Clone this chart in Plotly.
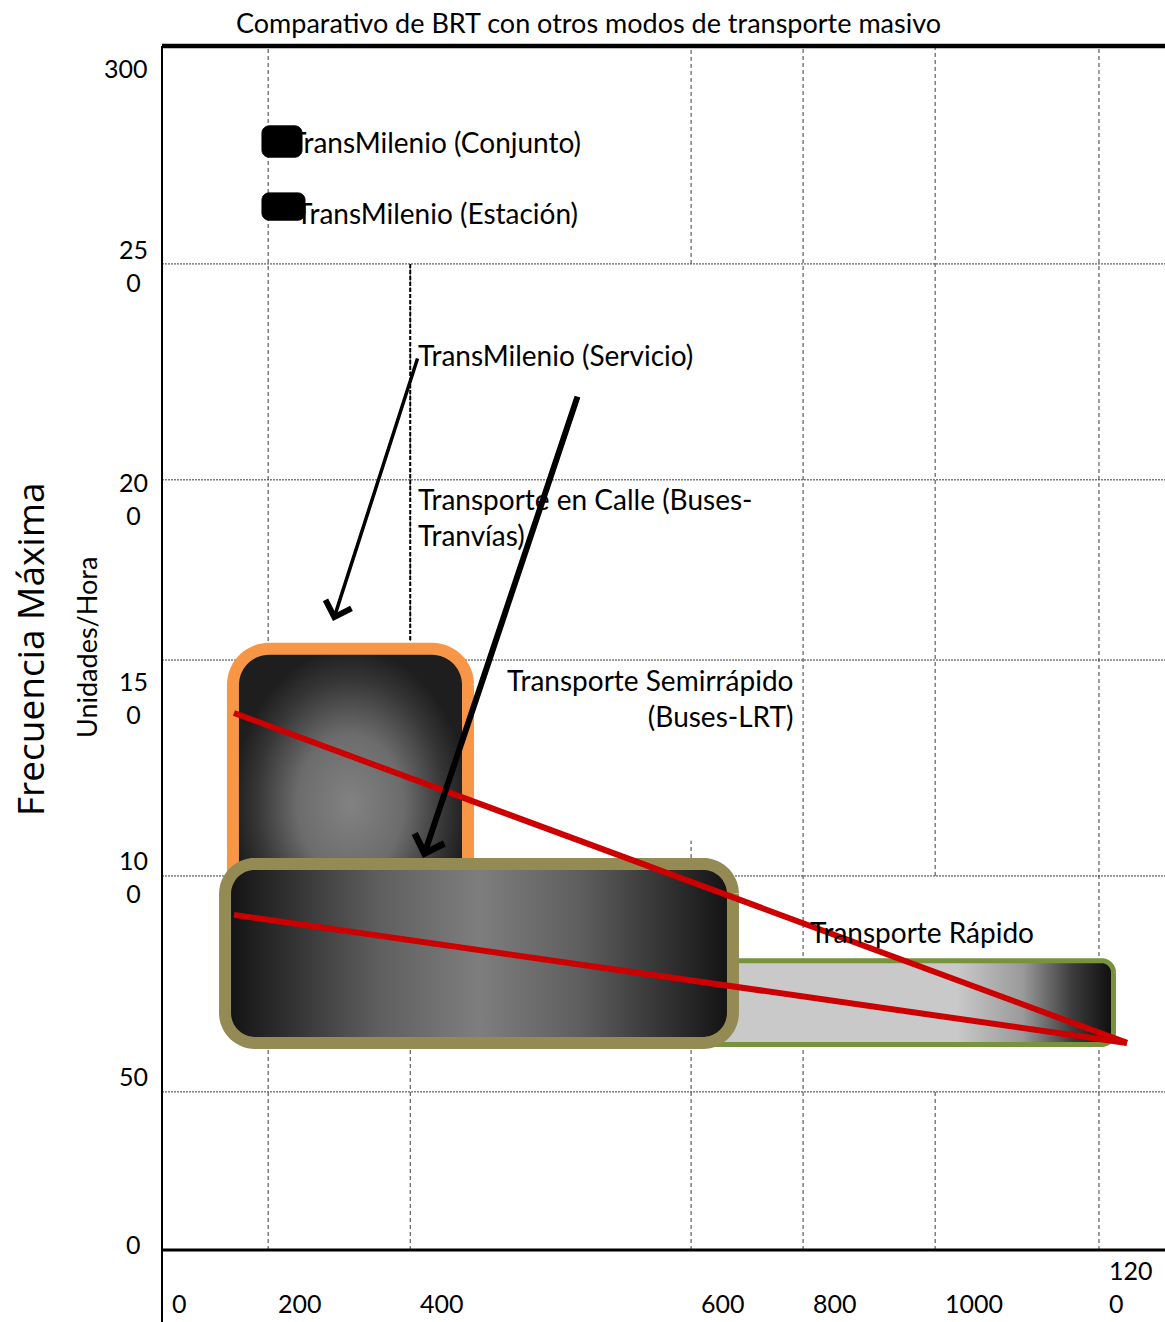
import numpy as np
import plotly.graph_objects as go

# ---------------- data ----------------
title_text = "Comparativo de BRT con otros modos de transporte masivo"
y_title_text = "Frecuencia Máxima"
y_subtitle_text = "Unidades/Hora"

# tick labels and where each tick sits on the (non-uniform) drawn axis
x_tick_text = ["0", "200", "400", "600", "800", "1000", "120<br>0"]
x_tick_pos = [0, 127, 297, 633, 767, 925, 1121]
y_tick_text = ["300", "25<br>0", "20<br>0", "15<br>0", "10<br>0", "50", "0"]
y_tick_pos = [300, 245.7, 191.9, 147.0, 93.2, 39.4, 0]

# rounded mode boxes (axis units)
box_names = ["Transporte Rápido", "Transporte en Calle (Buses-Tranvías)",
             "Transporte Semirrápido (Buses-LRT)"]
box_x0 = [643.7, 84.9, 75.4]
box_x1 = [1138.4, 366.1, 683.1]
box_y0 = [51.2, 72.3, 51.6]
box_y1 = [72.1, 149.8, 96.2]

# small black key marks next to the TransMilenio labels
key_names = ["TransMilenio (Conjunto)", "TransMilenio (Estación)"]
key_x0 = [119.6, 119.6]
key_x1 = [167.5, 171.1]
key_y0 = [272.3, 256.6]
key_y1 = [280.1, 263.4]
key_text_x = [151.0, 158.0]
key_text_y = [276.2, 258.5]

# red trend lines
red_x = [[86.1, 1154.5], [86.1, 1154.5]]
red_y = [[133.8, 51.6], [83.5, 51.6]]

# arrows: tail -> head
arrow_tail_x = [306.3, 497.7]
arrow_tail_y = [222.5, 213.0]
arrow_head_x = [204.6, 312.3]
arrow_head_y = [156.7, 97.7]

# free text labels
label_text = ["TransMilenio (Servicio)", "Transporte en Calle (Buses-<br>Tranvías)",
              "Transporte Semirrápido<br>(Buses-LRT)", "Transporte Rápido"]
label_x = [304.0, 304.0, 757.4, 773.0]
label_y = [223.0, 182.6, 137.5, 79.2]

# ---------------- layout geometry / styles ----------------
W, H = 1165, 1322
ML, MR, MT, MB = 162, 0, 46, 72
XR = [0, 1200]
YR = [0, 300]
PW, PH = W - ML - MR, H - MT - MB
KX = (XR[1] - XR[0]) / PW
KY = (YR[1] - YR[0]) / PH
FONT = "Lato, 'Open Sans', sans-serif"
GRID = "#3c3c3c"

box_line_color = ["#77933c", "#f79646", "#948a54"]
box_line_width = [5, 12, 12]
box_radius_px = [12, 36, 30]
box_gradient = [
    dict(type="horizontal", colorscale=[[0, "#c9c9c9"], [0.62, "#c9c9c9"], [0.78, "#9a9a9a"],
                                         [0.9, "#3c3c3c"], [1, "#0d0d0d"]]),
    dict(type="radial", colorscale=[[0, "#828282"], [0.45, "#6c6c6c"], [0.8, "#363636"],
                                     [1, "#1e1e1e"]]),
    dict(type="horizontal", colorscale=[[0, "#111111"], [0.1, "#2a2a2a"], [0.3, "#5e5e5e"],
                                         [0.5, "#7e7e7e"], [0.7, "#5e5e5e"], [0.9, "#2a2a2a"],
                                         [1, "#111111"]]),
]


def rounded_path(x0, x1, y0, y1, r_px, n=16):
    rx, ry = r_px * KX, r_px * KY
    corners = [(x1 - rx, y1 - ry, 0, 90), (x0 + rx, y1 - ry, 90, 180),
               (x0 + rx, y0 + ry, 180, 270), (x1 - rx, y0 + ry, 270, 360)]
    xs, ys = [], []
    for cx, cy, a0, a1 in corners:
        t = np.radians(np.linspace(a0, a1, n))
        xs += list(cx + rx * np.cos(t))
        ys += list(cy + ry * np.sin(t))
    xs.append(xs[0])
    ys.append(ys[0])
    return xs, ys


fig = go.Figure()

for i, name in enumerate(box_names):
    xs, ys = rounded_path(box_x0[i], box_x1[i], box_y0[i], box_y1[i], box_radius_px[i])
    fig.add_trace(go.Scatter(x=xs, y=ys, mode="lines", fill="toself", name=name,
                             line=dict(color=box_line_color[i], width=box_line_width[i],
                                       simplify=False),
                             fillgradient=box_gradient[i], hoverinfo="name"))

for i, name in enumerate(key_names):
    xs, ys = rounded_path(key_x0[i], key_x1[i], key_y0[i], key_y1[i], 7)
    fig.add_trace(go.Scatter(x=xs, y=ys, mode="lines", fill="toself", name=name,
                             line=dict(color="black", width=1, simplify=False),
                             fillcolor="black", hoverinfo="name"))

for xs, ys in zip(red_x, red_y):
    fig.add_trace(go.Scatter(x=xs, y=ys, mode="lines", line=dict(color="#cc0000", width=6),
                             hoverinfo="skip"))

# grid lines (segments; some are interrupted in the original drawing)
v_gaps = {2: [(245.7, 300)], 3: [(102.0, 245.7)], 5: [(39.4, 93.2)]}
v_bold = {2: (152.0, 245.7)}
shapes = []
for i, xp in enumerate(x_tick_pos):
    if i == 0:
        continue
    segs = [(YR[0], YR[1])]
    for g0, g1 in v_gaps.get(i, []):
        new = []
        for s0, s1 in segs:
            if g0 > s0:
                new.append((s0, min(g0, s1)))
            if g1 < s1:
                new.append((max(g1, s0), s1))
        segs = new
    for s0, s1 in segs:
        shapes.append(dict(type="line", xref="x", yref="y", x0=xp, x1=xp, y0=s0, y1=s1,
                           line=dict(color=GRID, width=1, dash="4px,3px"), layer="below"))
    if i in v_bold:
        b0, b1 = v_bold[i]
        shapes.append(dict(type="line", xref="x", yref="y", x0=xp, x1=xp, y0=b0, y1=b1,
                           line=dict(color="black", width=2, dash="4px,2px"), layer="below"))
for yp in y_tick_pos:
    if yp in (YR[0], YR[1]):
        continue
    shapes.append(dict(type="line", xref="x", yref="y", x0=XR[0], x1=XR[1], y0=yp, y1=yp,
                       line=dict(color=GRID, width=1, dash="2px,1px"), layer="below"))

# frame lines
shapes.append(dict(type="line", xref="paper", yref="paper", x0=0, x1=1, y0=1, y1=1,
                   line=dict(color="black", width=4.5)))
shapes.append(dict(type="line", xref="paper", yref="paper", x0=0, x1=1, y0=0, y1=0,
                   line=dict(color="black", width=3)))
shapes.append(dict(type="line", xref="paper", yref="paper", x0=0, x1=0, y0=-MB / PH, y1=1,
                   line=dict(color="black", width=2)))

ann = []
TICKF = dict(family=FONT, size=25, color="black")
for xp, t in zip(x_tick_pos, x_tick_text):
    ann.append(dict(x=xp, y=0, xref="x", yref="paper", text=t, showarrow=False,
                    xanchor="left", yanchor="bottom", xshift=8, yshift=-70, align="left",
                    font=TICKF))
y_label_shift = [-22, -1.5, -18.5, -37, -1, 16, 6]
y_label_xshift = [-12, -12, -12, -12, -12, -12, -19]
for yp, t, sh, xs_ in zip(y_tick_pos, y_tick_text, y_label_shift, y_label_xshift):
    ann.append(dict(x=0, y=yp, xref="paper", yref="y", text=t, showarrow=False,
                    xanchor="right", yanchor="middle", xshift=xs_, yshift=sh, align="center",
                    font=TICKF))

ann.append(dict(x=(588.5 - ML) / PW, y=1, xref="paper", yref="paper", text=title_text,
                showarrow=False, xanchor="center", yanchor="middle", yshift=24,
                font=dict(family=FONT, size=27, color="black")))
ann.append(dict(x=(29 - ML) / PW, y=(H - MB - 650) / PH, xref="paper", yref="paper",
                text=y_title_text, textangle=-90, showarrow=False, xanchor="center",
                yanchor="middle", font=dict(family="'Open Sans', sans-serif", size=37,
                                            color="black")))
ann.append(dict(x=(86 - ML) / PW, y=(H - MB - 648) / PH, xref="paper", yref="paper",
                text=y_subtitle_text, textangle=-90, showarrow=False, xanchor="center",
                yanchor="middle", font=dict(family=FONT, size=27, color="black")))

BODY = dict(family=FONT, size=28, color="black")
for t, xk, yk in zip(key_names, key_text_x, key_text_y):
    ann.append(dict(x=xk, y=yk, xref="x", yref="y", text=t, showarrow=False,
                    xanchor="left", yanchor="middle", font=BODY))
label_anchor = ["left", "left", "right", "left"]
for t, xl, yl, a in zip(label_text, label_x, label_y, label_anchor):
    ann.append(dict(x=xl, y=yl, xref="x", yref="y", text=t, showarrow=False,
                    xanchor=a, yanchor="middle", align=a, font=BODY))

arrow_w = [3.5, 6]
arrow_s = [1.5, 1.0]
for i in range(2):
    ann.append(dict(x=arrow_head_x[i], y=arrow_head_y[i], ax=arrow_tail_x[i], ay=arrow_tail_y[i],
                    xref="x", yref="y", axref="x", ayref="y", text="", showarrow=True,
                    arrowhead=4, arrowsize=arrow_s[i], arrowwidth=arrow_w[i],
                    arrowcolor="black", standoff=0))

fig.update_layout(
    width=W, height=H, margin=dict(l=ML, r=MR, t=MT, b=MB, pad=0),
    paper_bgcolor="white", plot_bgcolor="white", showlegend=False,
    xaxis=dict(range=XR, showgrid=False, zeroline=False, showticklabels=False,
               showline=False, ticks=""),
    yaxis=dict(range=YR, showgrid=False, zeroline=False, showticklabels=False,
               showline=False, ticks=""),
    shapes=shapes, annotations=ann,
)

fig.write_html("out.html", config={"displayModeBar": False},
               post_script="document.body.style.margin='0';document.body.style.padding='0';"
                           "document.documentElement.style.overflow='hidden';")
